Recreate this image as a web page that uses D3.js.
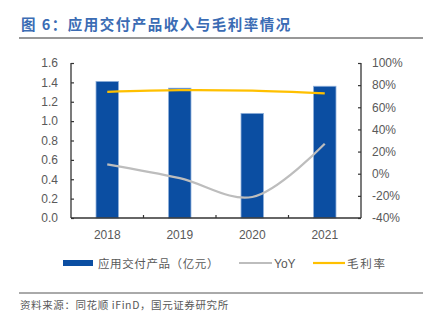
<!DOCTYPE html>
<html><head><meta charset="utf-8">
<script src="https://cdn.jsdelivr.net/npm/d3@7"></script>
<style>body{margin:0;background:#fff}svg{display:block}</style>
</head><body>
<script>
const categories = ["2018","2019","2020","2021"];
const revenue = [1.41, 1.34, 1.08, 1.36];
const yoy = [8.5, -4, -21, 27];
const margin = [74, 75.5, 75, 72.5];
const leftTicks = [0,0.2,0.4,0.6,0.8,1.0,1.2,1.4,1.6];
const rightTicks = [-40,-20,0,20,40,60,80,100];
const title = "图 6：应用交付产品收入与毛利率情况";
const source = "资料来源：同花顺 iFinD，国元证券研究所";
const legendLabels = ["应用交付产品（亿元）","YoY","毛利率"];

const W=436,H=323;
const svg=d3.select("body").append("svg").attr("width",W).attr("height",H);
const font="'Noto Sans CJK SC','Liberation Sans',Arial,sans-serif";
const L=71,R=361,T=63,B=218;
const x=d3.scaleBand().domain(categories).range([L,R]).padding(0);
const y=d3.scaleLinear().domain([0,1.6]).range([B,T]);
const y2=d3.scaleLinear().domain([-40,100]).range([B,T]);

// title
svg.append("text").attr("x",21).attr("y",30).attr("fill","#3B6CB4").attr("font-weight","bold")
 .attr("font-size",14.5).attr("letter-spacing",1.5).attr("font-family",font).text(title);
svg.append("line").attr("x1",19).attr("x2",423).attr("y1",38).attr("y2",38).attr("stroke","#333").attr("stroke-width",1.2);

// bars
const bw=x.bandwidth()*0.31;
svg.selectAll("rect.bar").data(categories).join("rect").attr("class","bar")
 .attr("x",d=>x(d)+x.bandwidth()/2-bw/2).attr("width",bw)
 .attr("y",(d,i)=>y(revenue[i])).attr("height",(d,i)=>B-y(revenue[i]))
 .attr("fill","#0B4EA2").attr("stroke","#8FB0DA").attr("stroke-width",0.8);

// lines
const cx=d=>x(d)+x.bandwidth()/2;
const lineG=d3.line().x((d,i)=>cx(categories[i])).y(d=>y2(d)).curve(d3.curveCatmullRom.alpha(0.5));
svg.append("path").attr("d",lineG(yoy)).attr("fill","none").attr("stroke","#BDBDBD").attr("stroke-width",2.2);
svg.append("path").attr("d",lineG(margin)).attr("fill","none").attr("stroke","#FFC000").attr("stroke-width",2.2);

// axes
const axStroke="#333";
const gl=svg.append("g").attr("transform",`translate(${L},0)`)
 .call(d3.axisLeft(y).tickValues(leftTicks).tickFormat(d3.format(".1f")).tickSize(-3).tickPadding(13));
const gr=svg.append("g").attr("transform",`translate(${R},0)`)
 .call(d3.axisRight(y2).tickValues(rightTicks).tickFormat(d=>d+"%").tickSize(-3).tickPadding(11));
const gb=svg.append("g").attr("transform",`translate(0,${B})`)
 .call(d3.axisBottom(x).tickSize(0).tickPadding(12));
[gl,gr,gb].forEach(g=>{
 g.select(".domain").attr("stroke",axStroke).attr("stroke-width",1.3);
 g.selectAll(".tick line").attr("stroke",axStroke).attr("stroke-width",1.2);
 g.selectAll("text").attr("fill","#595959").attr("font-size",12).attr("font-family","'Liberation Sans',Arial,sans-serif");
});
gl.select(".domain").attr("d",`M0,${T}V${B}`);
gr.select(".domain").attr("d",`M0,${T}V${B}`);
gb.select(".domain").attr("d",`M${L},0H${R}`);
gr.selectAll("text").attr("text-anchor","start");
// bottom category boundary ticks
svg.selectAll("line.bt").data(categories.slice(1)).join("line").attr("class","bt")
 .attr("x1",d=>x(d)).attr("x2",d=>x(d)).attr("y1",B).attr("y2",B-3).attr("stroke",axStroke).attr("stroke-width",1.2);

// legend
const ly=263;
svg.append("rect").attr("x",63).attr("y",ly-3).attr("width",30).attr("height",6).attr("fill","#0B4EA2");
svg.append("text").attr("x",98).attr("y",ly+4.5).attr("font-size",11.5).attr("letter-spacing",0.6).attr("fill","#595959").attr("font-family",font).text(legendLabels[0]);
svg.append("line").attr("x1",239).attr("x2",272).attr("y1",ly).attr("y2",ly).attr("stroke","#BDBDBD").attr("stroke-width",2.2);
svg.append("text").attr("x",274).attr("y",ly+4.5).attr("font-size",12).attr("fill","#595959").attr("font-family","'Liberation Sans',Arial,sans-serif").text(legendLabels[1]);
svg.append("line").attr("x1",313).attr("x2",345).attr("y1",ly).attr("y2",ly).attr("stroke","#FFC000").attr("stroke-width",2.2);
svg.append("text").attr("x",347).attr("y",ly+4.5).attr("font-size",11.5).attr("letter-spacing",1.7).attr("fill","#595959").attr("font-family",font).text(legendLabels[2]);

// footer
svg.append("line").attr("x1",19).attr("x2",423).attr("y1",293).attr("y2",293).attr("stroke","#555").attr("stroke-width",1);
svg.append("text").attr("x",20).attr("y",309).attr("font-size",10.5).attr("letter-spacing",0.6).attr("fill","#595959").attr("font-family",font).text(source);
</script>
</body></html>
